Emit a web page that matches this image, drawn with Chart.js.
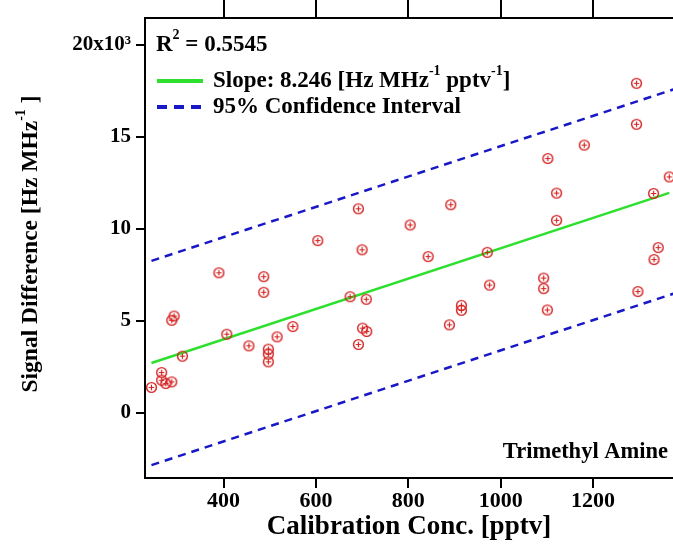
<!DOCTYPE html>
<html>
<head>
<meta charset="utf-8">
<script src="https://cdn.jsdelivr.net/npm/chart.js@4.4.1/dist/chart.umd.min.js"></script>
<style>
  html, body { margin: 0; padding: 0; background: #fff; overflow: hidden; }
  #wrap { width: 673px; height: 547px; }
</style>
</head>
<body>
<div id="wrap"><canvas id="calChart" width="673" height="547"></canvas></div>
<script>
// calibration points: concentration (pptv) vs signal difference (Hz/MHz)
const concPptv = [
  244, 266, 266, 275, 288, 288, 293, 311, 390, 407, 455, 487,
  487, 497, 497, 497, 516, 550, 604, 674, 692, 692, 700, 701,
  710, 709, 804, 843, 892, 889, 915, 915, 971, 976, 1093, 1093,
  1101, 1102, 1121, 1121, 1181, 1294, 1294, 1297, 1331, 1332, 1341, 1365
];
const signalHz = [
  1390, 2200, 1780, 1600, 1690, 5040, 5270, 3090, 7620, 4280, 3650, 7410,
  6560, 3470, 3200, 2780, 4140, 4700, 9370, 6320, 11100, 3720, 8870, 4610,
  4430, 6180, 10220, 8500, 11320, 4790, 5850, 5580, 8730, 6950, 7330, 6760,
  5600, 13830, 11950, 10470, 14560, 15690, 17920, 6600, 11930, 8340, 8990, 12830
];

const xTicks = [400, 600, 800, 1000, 1200];
const yTicks = [0, 5000, 10000, 15000, 20000];

// linear fit and 95% band
const fitSlope = 8.246;
const fitIntercept = 705;
const ciHalfWidth = 5550;
const fitRange = [244, 1365];
const ciRange = [244, 1390];
const rSquared = '0.5545';

const FONT = "'Liberation Serif', 'Times New Roman', serif";
const GREEN = '#2ee02e';
const BLUE = '#1818c8';
const RED = '#d42222';

// circle-with-plus marker
const marker = document.createElement('canvas');
marker.width = 13; marker.height = 13;
const mc = marker.getContext('2d');
mc.strokeStyle = RED;
mc.lineWidth = 1.4;
mc.beginPath(); mc.arc(6.5, 6.5, 4.9, 0, Math.PI * 2); mc.stroke();
mc.lineWidth = 1.2;
mc.beginPath();
mc.moveTo(6.5, 3.8); mc.lineTo(6.5, 9.2);
mc.moveTo(3.8, 6.5); mc.lineTo(9.2, 6.5);
mc.stroke();

const points = concPptv.map((x, i) => ({ x: x, y: signalHz[i] }));
const lineAt = (b, range) => range.map(x => ({ x: x, y: fitSlope * x + b }));

// text with superscript pieces, drawn left to right from (x, y) on a middle baseline
function drawRich(ctx, parts, x, y, size) {
  let cx = x;
  parts.forEach(p => {
    if (p.sup) {
      ctx.font = 'bold ' + Math.round(size * 0.6) + 'px ' + FONT;
      ctx.fillText(p.t, cx, y - size * 0.42);
    } else {
      ctx.font = 'bold ' + size + 'px ' + FONT;
      ctx.fillText(p.t, cx, y);
    }
    cx += ctx.measureText(p.t).width;
  });
  return cx - x;
}
function measureRich(ctx, parts, size) {
  let w = 0;
  parts.forEach(p => {
    ctx.font = 'bold ' + (p.sup ? Math.round(size * 0.6) : size) + 'px ' + FONT;
    w += ctx.measureText(p.t).width;
  });
  return w;
}

const annotations = {
  id: 'annotations',
  afterDraw(chart) {
    const ctx = chart.ctx;
    const area = chart.chartArea;
    ctx.save();
    ctx.fillStyle = '#000';
    ctx.textBaseline = 'middle';
    ctx.textAlign = 'left';

    // y axis title
    const yTitle = [{ t: 'Signal Difference [Hz MHz' }, { t: '-1', sup: true }, { t: ' ]' }];
    const tw = measureRich(ctx, yTitle, 23.5);
    ctx.save();
    ctx.translate(31, 244);
    ctx.rotate(-Math.PI / 2);
    drawRich(ctx, yTitle, -tw / 2, 0, 23.5);
    ctx.restore();

    // legend block
    const lx = area.left + 11;
    drawRich(ctx, [{ t: 'R' }, { t: '2', sup: true }, { t: ' = ' + rSquared }], lx, 45, 23);

    ctx.strokeStyle = GREEN;
    ctx.lineWidth = 4;
    ctx.beginPath(); ctx.moveTo(lx + 1, 81); ctx.lineTo(lx + 47, 81); ctx.stroke();
    drawRich(ctx, [
      { t: 'Slope: ' + fitSlope + ' [Hz MHz' }, { t: '-1', sup: true },
      { t: ' pptv' }, { t: '-1', sup: true }, { t: ']' }
    ], lx + 57, 81, 23);

    ctx.strokeStyle = BLUE;
    ctx.setLineDash([10, 7]);
    ctx.beginPath(); ctx.moveTo(lx + 1, 107); ctx.lineTo(lx + 47, 107); ctx.stroke();
    ctx.setLineDash([]);
    drawRich(ctx, [{ t: '95% Confidence Interval' }], lx + 57, 107, 23);

    // compound name
    ctx.font = 'bold 22.5px ' + FONT;
    ctx.textAlign = 'right';
    ctx.fillText('Trimethyl Amine', 668, 452);
    ctx.restore();
  }
};

const tickFont = { family: FONT, size: 22, weight: 'bold' };
const setTicks = list => scale => { scale.ticks = list.map(v => ({ value: v })); };
// fixed box sizes for the axes
const fixBox = (w, h) => s => {
  if (w !== null) s.width = w;
  if (h !== null) s.height = h;
};

new Chart(document.getElementById('calChart'), {
  type: 'scatter',
  data: {
    datasets: [
      {
        label: 'Calibration',
        data: points,
        pointStyle: marker,
        pointRadius: 6,
        pointHoverRadius: 6,
        order: 1
      },
      {
        label: 'Fit',
        data: lineAt(fitIntercept, fitRange),
        showLine: true,
        borderColor: GREEN,
        borderWidth: 2.5,
        pointRadius: 0,
        order: 2
      },
      {
        label: 'CI upper',
        data: lineAt(fitIntercept + ciHalfWidth, ciRange),
        showLine: true,
        borderColor: BLUE,
        borderWidth: 2.5,
        borderDash: [8, 6],
        pointRadius: 0,
        order: 3
      },
      {
        label: 'CI lower',
        data: lineAt(fitIntercept - ciHalfWidth, ciRange),
        showLine: true,
        borderColor: BLUE,
        borderWidth: 2.5,
        borderDash: [8, 6],
        pointRadius: 0,
        order: 3
      }
    ]
  },
  options: {
    responsive: false,
    animation: false,
    layout: { padding: 0, autoPadding: false },
    plugins: { legend: { display: false }, tooltip: { enabled: false } },
    scales: {
      x: {
        type: 'linear',
        position: 'bottom',
        min: 230,
        max: 1373,
        afterBuildTicks: setTicks(xTicks),
        afterFit: fixBox(null, 69),
        grid: { drawOnChartArea: false, color: '#000', lineWidth: 2, tickLength: 10 },
        border: { color: '#000', width: 2 },
        ticks: { font: tickFont, color: '#000', padding: 0, maxRotation: 0, callback: v => String(v) },
        title: {
          display: true,
          text: 'Calibration Conc. [pptv]',
          font: { family: FONT, size: 27, weight: 'bold' },
          color: '#000',
          padding: { top: 0, bottom: 4 }
        }
      },
      xTop: {
        type: 'linear',
        position: 'top',
        min: 230,
        max: 1373,
        afterBuildTicks: setTicks(xTicks),
        afterFit: fixBox(null, 18),
        grid: { drawOnChartArea: false, color: '#000', lineWidth: 2, tickLength: 18 },
        border: { color: '#000', width: 2 },
        ticks: { display: false }
      },
      y: {
        type: 'linear',
        min: -3533,
        max: 21467,
        afterBuildTicks: setTicks(yTicks),
        afterFit: fixBox(145, null),
        grid: { drawOnChartArea: false, color: '#000', lineWidth: 2, tickLength: 9 },
        border: { color: '#000', width: 2 },
        ticks: {
          font: { family: FONT, size: 21, weight: 'bold' },
          color: '#000',
          padding: 5,
          callback: v => (v === 20000 ? '20x10\u00B3' : String(v / 1000))
        }
      }
    }
  },
  plugins: [annotations]
});
</script>
</body>
</html>
